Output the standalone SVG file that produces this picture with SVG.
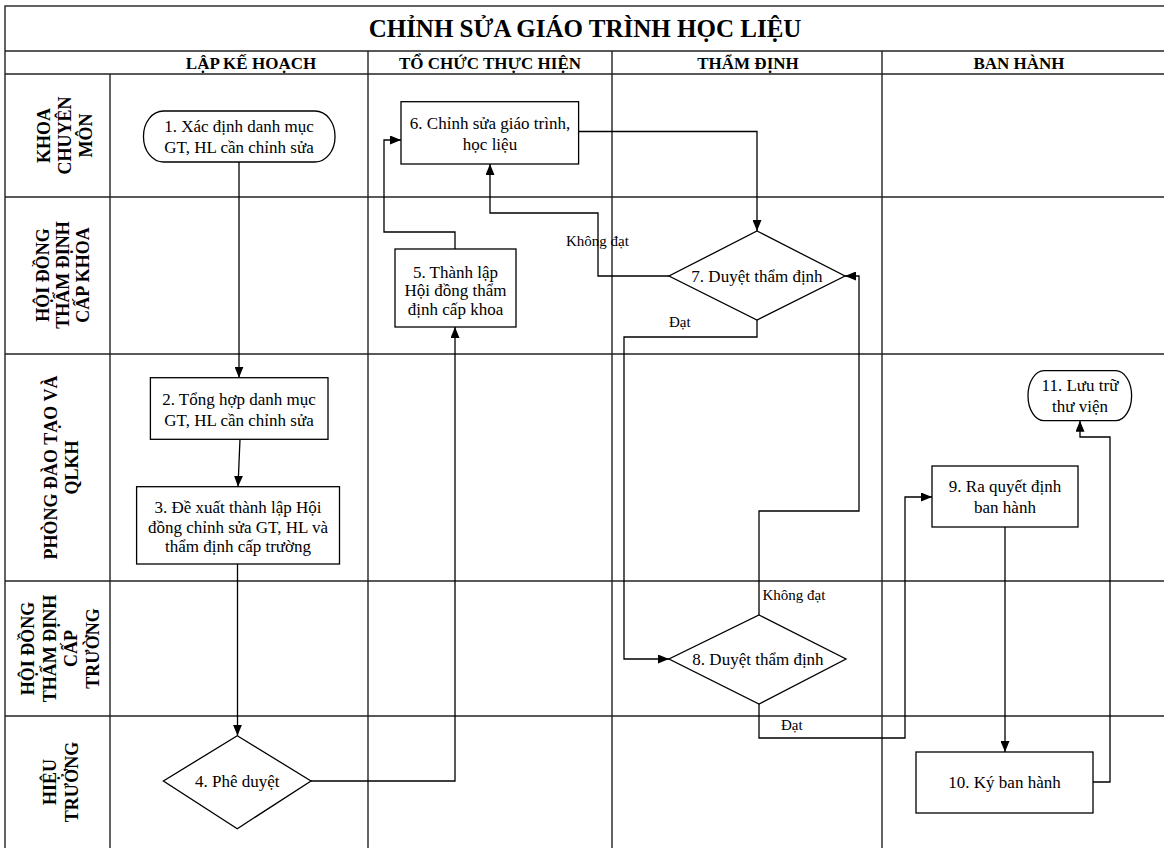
<svg xmlns="http://www.w3.org/2000/svg" width="1164" height="848" viewBox="0 0 1164 848">
<style>
.grid{stroke:#222;stroke-width:1.4;fill:none}
.node{fill:#fff;stroke:#000;stroke-width:1.3}
.conn{stroke:#000;stroke-width:1.3;fill:none;marker-end:url(#arr)}
.line{stroke:#000;stroke-width:1.3;fill:none}
.t{font-family:"Liberation Serif","Times New Roman",serif;font-size:17px;text-anchor:middle;fill:#000}
.h{font-family:"Liberation Serif","Times New Roman",serif;font-size:17px;font-weight:bold;text-anchor:middle;fill:#000}
.rh{font-family:"Liberation Serif","Times New Roman",serif;font-size:18px;font-weight:bold;text-anchor:middle;fill:#000}
.lbl{font-family:"Liberation Serif","Times New Roman",serif;font-size:15px;fill:#000}
</style>
<defs>
<marker id="arr" viewBox="0 0 11 9" refX="11" refY="4.5" markerWidth="11" markerHeight="9" markerUnits="userSpaceOnUse" orient="auto">
<path d="M0,0 L11,4.5 L0,9 z" fill="#000"/>
</marker>
</defs>
<rect width="1164" height="848" fill="#fff"/>
<g id="grid">
<rect class="grid" x="5" y="6" width="1170" height="860"/>
<line class="grid" x1="5" y1="51" x2="1164" y2="51"/>
<line class="grid" x1="5" y1="74" x2="1164" y2="74"/>
<line class="grid" x1="5" y1="197" x2="1164" y2="197"/>
<line class="grid" x1="5" y1="354" x2="1164" y2="354"/>
<line class="grid" x1="5" y1="581" x2="1164" y2="581"/>
<line class="grid" x1="5" y1="716" x2="1164" y2="716"/>
<line class="grid" x1="110" y1="74" x2="110" y2="848"/>
<line class="grid" x1="368" y1="51" x2="368" y2="848"/>
<line class="grid" x1="612" y1="51" x2="612" y2="848"/>
<line class="grid" x1="882" y1="51" x2="882" y2="848"/>
<text x="585" y="37" style="font-family:'Liberation Serif','Times New Roman',serif;font-size:25px;font-weight:bold;text-anchor:middle">CHỈNH SỬA GIÁO TRÌNH HỌC LIỆU</text>
<text class="h" x="251" y="69">LẬP KẾ HOẠCH</text>
<text class="h" x="490" y="69">TỔ CHỨC THỰC HIỆN</text>
<text class="h" x="748" y="69">THẨM ĐỊNH</text>
<text class="h" x="1019" y="69">BAN HÀNH</text>
<text class="rh" transform="translate(50,135.5) rotate(-90)"><tspan x="0" dy="0">KHOA</tspan><tspan x="0" dy="21">CHUYÊN</tspan><tspan x="0" dy="21">MÔN</tspan></text>
<text class="rh" transform="translate(49,275) rotate(-90)"><tspan x="0" dy="0">HỘI ĐỒNG</tspan><tspan x="0" dy="20">THẨM ĐỊNH</tspan><tspan x="0" dy="20">CẤP KHOA</tspan></text>
<text class="rh" transform="translate(57,467.5) rotate(-90)"><tspan x="0" dy="0">PHÒNG ĐÀO TẠO VÀ</tspan><tspan x="0" dy="21">QLKH</tspan></text>
<text class="rh" transform="translate(34,648.5) rotate(-90)"><tspan x="0" dy="0">HỘI ĐỒNG</tspan><tspan x="0" dy="21.5">THẨM ĐỊNH</tspan><tspan x="0" dy="21.5">CẤP</tspan><tspan x="0" dy="21.5">TRƯỜNG</tspan></text>
<text class="rh" transform="translate(56,782) rotate(-90)"><tspan x="0" dy="0">HIỆU</tspan><tspan x="0" dy="22">TRƯỞNG</tspan></text>
</g>
<g id="connectors">
<path class="conn" d="M239,162 V377.7"/>
<path class="conn" d="M240,439.3 L238,486.7"/>
<path class="conn" d="M237.5,564 V735.7"/>
<path class="conn" d="M311,781 H455 V327"/>
<path class="conn" d="M455,249 V232 H384 V140 H401"/>
<path class="conn" d="M578.6,131.5 H757 V231"/>
<path class="conn" d="M669,276 H598 V213 H490 V164"/>
<path class="conn" d="M757,320 V337 H624 V659 H669"/>
<path class="conn" d="M759,615 V511 H859 V276 H845"/>
<path class="conn" d="M759,704 V738 H905 V497 H932"/>
<path class="conn" d="M1005,527 V752"/>
<path class="conn" d="M1093,782 H1110 V437 H1080 V420.7"/>
<text class="lbl" x="566" y="246">Không đạt</text>
<text class="lbl" x="669" y="327">Đạt</text>
<text class="lbl" x="762.5" y="600">Không đạt</text>
<text class="lbl" x="781" y="730">Đạt</text>
</g>
<g id="n1">
<rect class="node" x="143.5" y="111" width="191.5" height="51" rx="20" ry="25"/>
<text class="t" x="239" y="132">1. Xác định danh mục</text>
<text class="t" x="239" y="153">GT, HL cần chỉnh sửa</text>
</g>
<g id="n2">
<rect class="node" x="150.4" y="377.7" width="177.6" height="61.6"/>
<text class="t" x="239" y="405">2. Tổng hợp danh mục</text>
<text class="t" x="239" y="426">GT, HL cần chỉnh sửa</text>
</g>
<g id="n3">
<rect class="node" x="136.6" y="486.7" width="202.9" height="77.3"/>
<text class="t" x="238" y="513">3. Đề xuất thành lập Hội</text>
<text class="t" x="238" y="532.5">đồng chỉnh sửa GT, HL và</text>
<text class="t" x="238" y="552">thẩm định cấp trường</text>
</g>
<g id="n4">
<polygon class="node" points="237.3,735.7 311,781 237.3,828.7 163.4,781"/>
<text class="t" x="237.3" y="787">4. Phê duyệt</text>
</g>
<g id="n5">
<rect class="node" x="395" y="249" width="121" height="78"/>
<text class="t" x="455.5" y="277.5">5. Thành lập</text>
<text class="t" x="455.5" y="296">Hội đồng thẩm</text>
<text class="t" x="455.5" y="314.5">định cấp khoa</text>
</g>
<g id="n6">
<rect class="node" x="401" y="101.7" width="177.6" height="62.3"/>
<text class="t" x="490" y="128.5">6. Chỉnh sửa giáo trình,</text>
<text class="t" x="490" y="149.5">học liệu</text>
</g>
<g id="n7">
<polygon class="node" points="757,231 845,276 757,320 669,276"/>
<text class="t" x="757" y="282">7. Duyệt thẩm định</text>
</g>
<g id="n8">
<polygon class="node" points="759,615 846,659 759,704 669,659"/>
<text class="t" x="758" y="665">8. Duyệt thẩm định</text>
</g>
<g id="n9">
<rect class="node" x="932" y="466" width="146" height="61"/>
<text class="t" x="1005" y="492">9. Ra quyết định</text>
<text class="t" x="1005" y="513">ban hành</text>
</g>
<g id="n10">
<rect class="node" x="916" y="752" width="177" height="61"/>
<text class="t" x="1004.5" y="788">10. Ký ban hành</text>
</g>
<g id="n11">
<rect class="node" x="1028" y="370.7" width="103.6" height="50" rx="16" ry="25"/>
<text class="t" x="1080" y="391">11. Lưu trữ</text>
<text class="t" x="1080" y="412">thư viện</text>
</g>
</svg>
